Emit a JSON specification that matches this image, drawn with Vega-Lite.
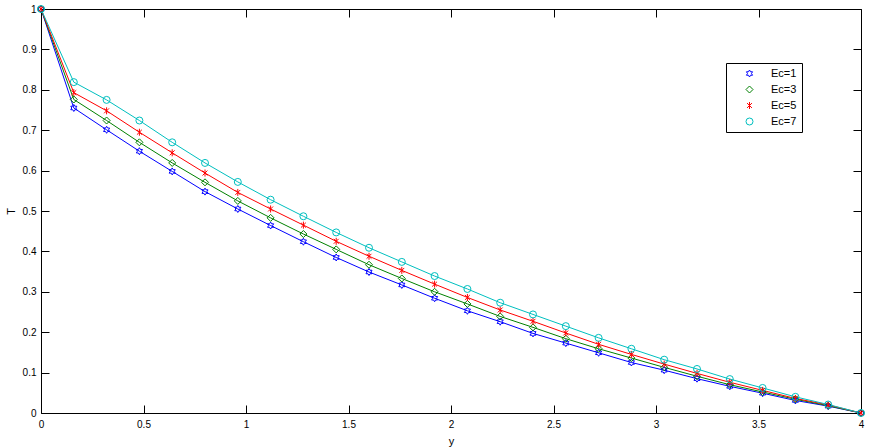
{
  "$schema": "https://vega.github.io/schema/vega-lite/v6.json",
  "width": 820,
  "height": 404,
  "autosize": {"type": "none"},
  "padding": {"left": 41, "top": 9, "right": 8, "bottom": 34},
  "background": "white",
  "config": {
    "view": {"stroke": "black", "strokeWidth": 1},
    "axis": {
      "domain": false,
      "grid": false,
      "tickColor": "black",
      "tickWidth": 1,
      "labelColor": "black",
      "labelFont": "Liberation Sans",
      "labelFontSize": 10,
      "titleFont": "Liberation Sans",
      "titleFontSize": 11,
      "titleFontWeight": "normal",
      "titleColor": "black",
      "labelFlush": false,
      "labelOverlap": false
    }
  },
  "data": {
    "values": [
      {"y": 0, "T": 1, "Ec": "Ec=1"},
      {"y": 0.16, "T": 0.755, "Ec": "Ec=1"},
      {"y": 0.32, "T": 0.701, "Ec": "Ec=1"},
      {"y": 0.48, "T": 0.648, "Ec": "Ec=1"},
      {"y": 0.64, "T": 0.598, "Ec": "Ec=1"},
      {"y": 0.8, "T": 0.548, "Ec": "Ec=1"},
      {"y": 0.96, "T": 0.505, "Ec": "Ec=1"},
      {"y": 1.12, "T": 0.464, "Ec": "Ec=1"},
      {"y": 1.28, "T": 0.424, "Ec": "Ec=1"},
      {"y": 1.44, "T": 0.385, "Ec": "Ec=1"},
      {"y": 1.6, "T": 0.349, "Ec": "Ec=1"},
      {"y": 1.76, "T": 0.317, "Ec": "Ec=1"},
      {"y": 1.92, "T": 0.284, "Ec": "Ec=1"},
      {"y": 2.08, "T": 0.253, "Ec": "Ec=1"},
      {"y": 2.24, "T": 0.226, "Ec": "Ec=1"},
      {"y": 2.4, "T": 0.197, "Ec": "Ec=1"},
      {"y": 2.56, "T": 0.173, "Ec": "Ec=1"},
      {"y": 2.72, "T": 0.149, "Ec": "Ec=1"},
      {"y": 2.88, "T": 0.125, "Ec": "Ec=1"},
      {"y": 3.04, "T": 0.106, "Ec": "Ec=1"},
      {"y": 3.2, "T": 0.085, "Ec": "Ec=1"},
      {"y": 3.36, "T": 0.066, "Ec": "Ec=1"},
      {"y": 3.52, "T": 0.049, "Ec": "Ec=1"},
      {"y": 3.68, "T": 0.031, "Ec": "Ec=1"},
      {"y": 3.84, "T": 0.017, "Ec": "Ec=1"},
      {"y": 4, "T": 0, "Ec": "Ec=1"},
      {"y": 0, "T": 1, "Ec": "Ec=3"},
      {"y": 0.16, "T": 0.776, "Ec": "Ec=3"},
      {"y": 0.32, "T": 0.724, "Ec": "Ec=3"},
      {"y": 0.48, "T": 0.67, "Ec": "Ec=3"},
      {"y": 0.64, "T": 0.619, "Ec": "Ec=3"},
      {"y": 0.8, "T": 0.571, "Ec": "Ec=3"},
      {"y": 0.96, "T": 0.525, "Ec": "Ec=3"},
      {"y": 1.12, "T": 0.483, "Ec": "Ec=3"},
      {"y": 1.28, "T": 0.443, "Ec": "Ec=3"},
      {"y": 1.44, "T": 0.405, "Ec": "Ec=3"},
      {"y": 1.6, "T": 0.367, "Ec": "Ec=3"},
      {"y": 1.76, "T": 0.333, "Ec": "Ec=3"},
      {"y": 1.92, "T": 0.3, "Ec": "Ec=3"},
      {"y": 2.08, "T": 0.27, "Ec": "Ec=3"},
      {"y": 2.24, "T": 0.239, "Ec": "Ec=3"},
      {"y": 2.4, "T": 0.212, "Ec": "Ec=3"},
      {"y": 2.56, "T": 0.184, "Ec": "Ec=3"},
      {"y": 2.72, "T": 0.159, "Ec": "Ec=3"},
      {"y": 2.88, "T": 0.136, "Ec": "Ec=3"},
      {"y": 3.04, "T": 0.113, "Ec": "Ec=3"},
      {"y": 3.2, "T": 0.091, "Ec": "Ec=3"},
      {"y": 3.36, "T": 0.07, "Ec": "Ec=3"},
      {"y": 3.52, "T": 0.052, "Ec": "Ec=3"},
      {"y": 3.68, "T": 0.034, "Ec": "Ec=3"},
      {"y": 3.84, "T": 0.018, "Ec": "Ec=3"},
      {"y": 4, "T": 0, "Ec": "Ec=3"},
      {"y": 0, "T": 1, "Ec": "Ec=5"},
      {"y": 0.16, "T": 0.793, "Ec": "Ec=5"},
      {"y": 0.32, "T": 0.748, "Ec": "Ec=5"},
      {"y": 0.48, "T": 0.695, "Ec": "Ec=5"},
      {"y": 0.64, "T": 0.644, "Ec": "Ec=5"},
      {"y": 0.8, "T": 0.594, "Ec": "Ec=5"},
      {"y": 0.96, "T": 0.546, "Ec": "Ec=5"},
      {"y": 1.12, "T": 0.505, "Ec": "Ec=5"},
      {"y": 1.28, "T": 0.465, "Ec": "Ec=5"},
      {"y": 1.44, "T": 0.425, "Ec": "Ec=5"},
      {"y": 1.6, "T": 0.388, "Ec": "Ec=5"},
      {"y": 1.76, "T": 0.353, "Ec": "Ec=5"},
      {"y": 1.92, "T": 0.319, "Ec": "Ec=5"},
      {"y": 2.08, "T": 0.286, "Ec": "Ec=5"},
      {"y": 2.24, "T": 0.255, "Ec": "Ec=5"},
      {"y": 2.4, "T": 0.227, "Ec": "Ec=5"},
      {"y": 2.56, "T": 0.198, "Ec": "Ec=5"},
      {"y": 2.72, "T": 0.17, "Ec": "Ec=5"},
      {"y": 2.88, "T": 0.145, "Ec": "Ec=5"},
      {"y": 3.04, "T": 0.121, "Ec": "Ec=5"},
      {"y": 3.2, "T": 0.098, "Ec": "Ec=5"},
      {"y": 3.36, "T": 0.076, "Ec": "Ec=5"},
      {"y": 3.52, "T": 0.056, "Ec": "Ec=5"},
      {"y": 3.68, "T": 0.036, "Ec": "Ec=5"},
      {"y": 3.84, "T": 0.02, "Ec": "Ec=5"},
      {"y": 4, "T": 0, "Ec": "Ec=5"},
      {"y": 0, "T": 1, "Ec": "Ec=7"},
      {"y": 0.16, "T": 0.819, "Ec": "Ec=7"},
      {"y": 0.32, "T": 0.775, "Ec": "Ec=7"},
      {"y": 0.48, "T": 0.724, "Ec": "Ec=7"},
      {"y": 0.64, "T": 0.67, "Ec": "Ec=7"},
      {"y": 0.8, "T": 0.619, "Ec": "Ec=7"},
      {"y": 0.96, "T": 0.572, "Ec": "Ec=7"},
      {"y": 1.12, "T": 0.528, "Ec": "Ec=7"},
      {"y": 1.28, "T": 0.487, "Ec": "Ec=7"},
      {"y": 1.44, "T": 0.447, "Ec": "Ec=7"},
      {"y": 1.6, "T": 0.409, "Ec": "Ec=7"},
      {"y": 1.76, "T": 0.374, "Ec": "Ec=7"},
      {"y": 1.92, "T": 0.339, "Ec": "Ec=7"},
      {"y": 2.08, "T": 0.307, "Ec": "Ec=7"},
      {"y": 2.24, "T": 0.273, "Ec": "Ec=7"},
      {"y": 2.4, "T": 0.244, "Ec": "Ec=7"},
      {"y": 2.56, "T": 0.215, "Ec": "Ec=7"},
      {"y": 2.72, "T": 0.186, "Ec": "Ec=7"},
      {"y": 2.88, "T": 0.159, "Ec": "Ec=7"},
      {"y": 3.04, "T": 0.132, "Ec": "Ec=7"},
      {"y": 3.2, "T": 0.109, "Ec": "Ec=7"},
      {"y": 3.36, "T": 0.084, "Ec": "Ec=7"},
      {"y": 3.52, "T": 0.062, "Ec": "Ec=7"},
      {"y": 3.68, "T": 0.04, "Ec": "Ec=7"},
      {"y": 3.84, "T": 0.021, "Ec": "Ec=7"},
      {"y": 4, "T": 0, "Ec": "Ec=7"}
    ]
  },
  "layer": [
    {
      "mark": {"type": "line", "strokeWidth": 1},
      "encoding": {
        "x": {
          "field": "y", "type": "quantitative",
          "scale": {"domain": [0, 4], "nice": false, "zero": false},
          "axis": {
            "orient": "bottom",
            "values": [0, 0.5, 1, 1.5, 2, 2.5, 3, 3.5, 4],
            "format": "~g",
            "tickSize": -8,
            "labelPadding": 14,
            "title": "y",
            "titlePadding": 6
          }
        },
        "y": {
          "field": "T", "type": "quantitative",
          "scale": {"domain": [0, 1], "nice": false, "zero": false},
          "axis": {
            "orient": "left",
            "values": [0, 0.1, 0.2, 0.3, 0.4, 0.5, 0.6, 0.7, 0.8, 0.9, 1],
            "format": "~g",
            "tickSize": -8,
            "labelPadding": 13,
            "title": "T",
            "titlePadding": 6
          }
        },
        "color": {
          "field": "Ec", "type": "nominal",
          "scale": {"domain": ["Ec=1", "Ec=3", "Ec=5", "Ec=7"], "range": ["#0000ff", "#008000", "#ff0000", "#00bfbf"]},
          "legend": {
            "title": null,
            "orient": "none",
            "legendX": 685,
            "legendY": 54,
            "padding": 5,
            "strokeColor": "black",
            "fillColor": "white",
            "labelFont": "Liberation Sans",
            "labelFontSize": 11,
            "labelColor": "black",
            "symbolSize": 49,
            "symbolStrokeWidth": 1,
            "symbolOffset": 13,
            "labelOffset": 16,
            "rowPadding": 4
          }
        }
      }
    },
    {
      "mark": {"type": "point", "filled": false, "size": 49, "strokeWidth": 1, "opacity": 1},
      "encoding": {
        "x": {
          "field": "y", "type": "quantitative",
          "scale": {"domain": [0, 4], "nice": false, "zero": false},
          "axis": {
            "orient": "top",
            "values": [0, 0.5, 1, 1.5, 2, 2.5, 3, 3.5, 4],
            "tickSize": -8,
            "labels": false,
            "title": null
          }
        },
        "y": {
          "field": "T", "type": "quantitative",
          "scale": {"domain": [0, 1], "nice": false, "zero": false},
          "axis": {
            "orient": "right",
            "values": [0, 0.1, 0.2, 0.3, 0.4, 0.5, 0.6, 0.7, 0.8, 0.9, 1],
            "tickSize": -8,
            "labels": false,
            "title": null
          }
        },
        "color": {
          "field": "Ec", "type": "nominal",
          "scale": {"domain": ["Ec=1", "Ec=3", "Ec=5", "Ec=7"], "range": ["#0000ff", "#008000", "#ff0000", "#00bfbf"]}
        },
        "shape": {
          "field": "Ec", "type": "nominal",
          "scale": {
            "domain": ["Ec=1", "Ec=3", "Ec=5", "Ec=7"],
            "range": [
              "M0,-1L0.289,-0.5L0.866,-0.5L0.577,0L0.866,0.5L0.289,0.5L0,1L-0.289,0.5L-0.866,0.5L-0.577,0L-0.866,-0.5L-0.289,-0.5Z",
              "M0,-1L1,0L0,1L-1,0Z",
              "M0,-1L0,1M-0.7,-0.7L0.7,0.7M-0.7,0.7L0.7,-0.7",
              "circle"
            ]
          },
          "legend": null
        }
      }
    }
  ],
  "resolve": {"axis": {"x": "independent", "y": "independent"}}
}
